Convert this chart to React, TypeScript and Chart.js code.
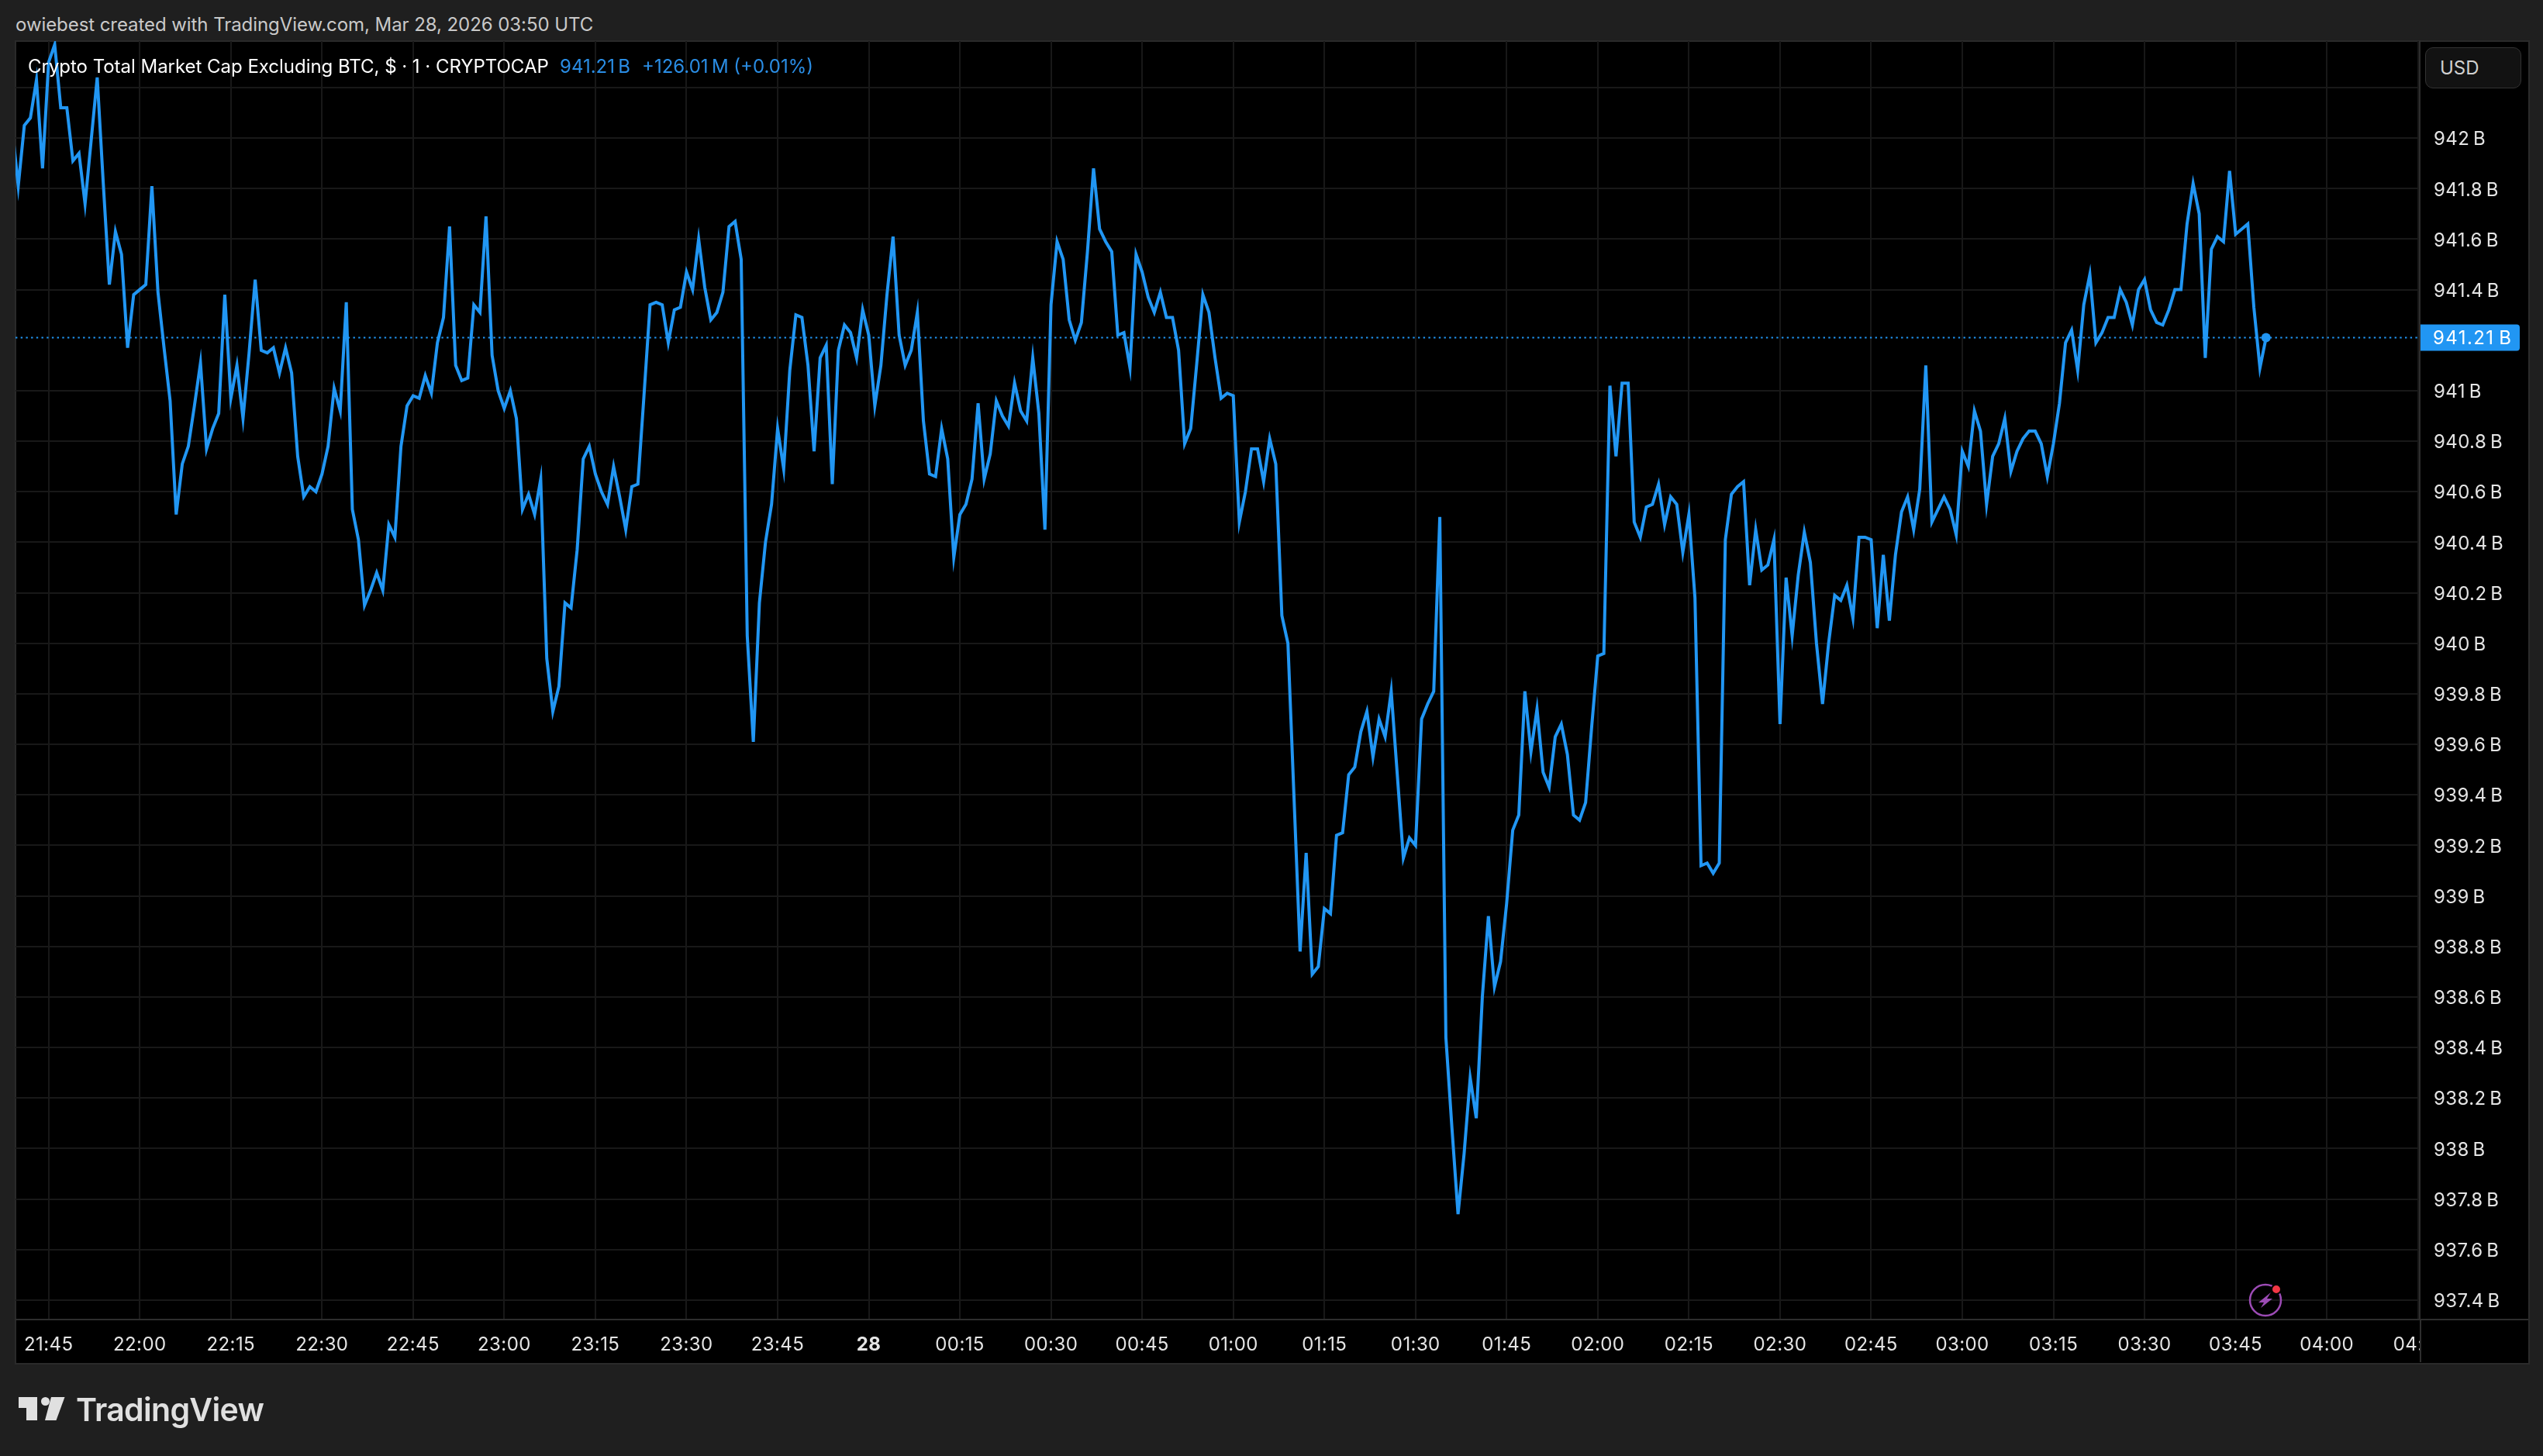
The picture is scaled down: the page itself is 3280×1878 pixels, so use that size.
import { useEffect, useRef } from 'react';
import Chart from 'chart.js/auto';

// one close per minute, the first one is 21:39 and falls left of the pane
const firstMinute = -6; // minutes relative to 21:45
const closes = [
  942.04, 941.81, 942.05, 942.08, 942.23, 941.88,
  942.30, 942.37, 942.12, 942.12, 941.91, 941.94, 941.74, 941.99, 942.24, 941.82,
  941.42, 941.63, 941.54, 941.17, 941.38, 941.40, 941.42, 941.81, 941.39, 941.17,
  940.96, 940.51, 940.71, 940.78, 940.94, 941.11, 940.77, 940.85, 940.91, 941.38,
  940.97, 941.10, 940.89, 941.15, 941.44, 941.16, 941.15, 941.17, 941.07, 941.17,
  941.07, 940.74, 940.58, 940.62, 940.60, 940.67, 940.78, 941.01, 940.92, 941.35,
  940.53, 940.41, 940.15, 940.21, 940.28, 940.21, 940.47, 940.42, 940.78, 940.94,
  940.98, 940.97, 941.06, 940.99, 941.19, 941.29, 941.65, 941.10, 941.04, 941.05,
  941.34, 941.31, 941.69, 941.14, 941.00, 940.93, 941.00, 940.89, 940.53, 940.59,
  940.51, 940.65, 939.94, 939.73, 939.83, 940.16, 940.14, 940.37, 940.73, 940.78,
  940.67, 940.60, 940.55, 940.70, 940.58, 940.45, 940.62, 940.63, 940.98, 941.34,
  941.35, 941.34, 941.19, 941.32, 941.33, 941.47, 941.40, 941.60, 941.41, 941.28,
  941.31, 941.39, 941.65, 941.67, 941.52, 940.03, 939.61, 940.16, 940.40, 940.55,
  940.85, 940.69, 941.08, 941.30, 941.29, 941.10, 940.76, 941.13, 941.18, 940.63,
  941.16, 941.26, 941.23, 941.13, 941.32, 941.22, 940.94, 941.10, 941.38, 941.61,
  941.22, 941.10, 941.16, 941.31, 940.88, 940.67, 940.66, 940.85, 940.73, 940.34,
  940.51, 940.55, 940.65, 940.95, 940.65, 940.75, 940.96, 940.90, 940.86, 941.03,
  940.92, 940.88, 941.13, 940.91, 940.45, 941.34, 941.59, 941.52, 941.28, 941.20,
  941.27, 941.55, 941.88, 941.64, 941.59, 941.55, 941.22, 941.23, 941.09, 941.54,
  941.47, 941.37, 941.31, 941.39, 941.29, 941.29, 941.16, 940.79, 940.85, 941.11,
  941.38, 941.31, 941.13, 940.97, 940.99, 940.98, 940.48, 940.60, 940.77, 940.77,
  940.64, 940.81, 940.71, 940.11, 940.00, 939.39, 938.78, 939.17, 938.69, 938.72,
  938.95, 938.93, 939.24, 939.25, 939.48, 939.51, 939.65, 939.73, 939.55, 939.70,
  939.63, 939.81, 939.48, 939.15, 939.23, 939.20, 939.70, 939.76, 939.81, 940.50,
  938.44, 938.08, 937.74, 937.98, 938.28, 938.12, 938.60, 938.92, 938.64, 938.74,
  938.97, 939.26, 939.32, 939.81, 939.57, 939.74, 939.49, 939.43, 939.63, 939.68,
  939.56, 939.32, 939.30, 939.37, 939.67, 939.95, 939.96, 941.02, 940.74, 941.03,
  941.03, 940.48, 940.42, 940.54, 940.55, 940.63, 940.47, 940.58, 940.55, 940.36,
  940.51, 940.18, 939.12, 939.13, 939.09, 939.13, 940.41, 940.59, 940.62, 940.64,
  940.23, 940.45, 940.29, 940.31, 940.41, 939.68, 940.26, 940.03, 940.27, 940.44,
  940.32, 940.00, 939.76, 940.00, 940.19, 940.17, 940.23, 940.10, 940.42, 940.42,
  940.41, 940.06, 940.35, 940.09, 940.35, 940.52, 940.58, 940.45, 940.61, 941.10,
  940.48, 940.53, 940.58, 940.53, 940.43, 940.76, 940.70, 940.92, 940.84, 940.55,
  940.74, 940.79, 940.89, 940.68, 940.76, 940.81, 940.84, 940.84, 940.79, 940.66,
  940.79, 940.95, 941.19, 941.24, 941.08, 941.34, 941.46, 941.19, 941.23, 941.29,
  941.29, 941.40, 941.35, 941.26, 941.40, 941.44, 941.32, 941.27, 941.26, 941.32,
  941.40, 941.40, 941.66, 941.82, 941.70, 941.13, 941.56, 941.61, 941.59, 941.87,
  941.62, 941.64, 941.66, 941.33, 941.09, 941.21,
];

const timeLabels = [
  '21:45', '22:00', '22:15', '22:30', '22:45', '23:00', '23:15', '23:30', '23:45', '28',
  '00:15', '00:30', '00:45', '01:00', '01:15', '01:30', '01:45', '02:00', '02:15', '02:30',
  '02:45', '03:00', '03:15', '03:30', '03:45', '04:00', '04:15',
];
// 941.2 has no line, the price label takes its place
const priceTicks = [
  937.4, 937.6, 937.8, 938, 938.2, 938.4, 938.6, 938.8, 939, 939.2, 939.4, 939.6, 939.8,
  940, 940.2, 940.4, 940.6, 940.8, 941, 941.4, 941.6, 941.8, 942, 942.2,
];
const hiddenPriceLabel = 942.2; // under the USD button
const lastPrice = 941.21;

const minuteMin = -5.45;
const minuteMax = 390.3;
const priceMin = 937.323;
const priceMax = 942.384;

const BLUE = '#2196f3';
const FONT = 'Inter, "Noto Sans", sans-serif';
const THIN = '\u2009';

const priceLabel = {
  id: 'priceLabel',
  beforeDraw(chart: any) {
    chart.ctx.letterSpacing = '0.4px';
  },
  afterDraw(chart: any) {
    const { ctx, chartArea, scales } = chart;
    const y = scales.y.getPixelForValue(lastPrice);
    ctx.save();
    ctx.fillStyle = BLUE;
    ctx.beginPath();
    ctx.roundRect(chartArea.right + 1, y - 17, 128, 34, [0, 4, 4, 0]);
    ctx.fill();
    ctx.fillStyle = '#ffffff';
    ctx.font = `24px ${FONT}`;
    ctx.letterSpacing = '1.4px';
    ctx.textBaseline = 'middle';
    ctx.fillText(`${lastPrice}${THIN}B`, chartArea.right + 17, y + 1);
    ctx.restore();
  },
};

function Text({ x, y, color, size = 24, weight = 400, spacing = 0, children }: any) {
  return (
    <div
      style={{
        position: 'absolute',
        left: x,
        top: y,
        color,
        fontFamily: FONT,
        fontSize: size,
        fontWeight: weight,
        letterSpacing: spacing,
        lineHeight: 1,
        whiteSpace: 'nowrap',
      }}
    >
      {children}
    </div>
  );
}

export default function App() {
  const chartRef = useRef<HTMLCanvasElement>(null);

  useEffect(() => {
    document.body.style.margin = '0';
    document.body.style.background = '#1f1f1f';
    if (!chartRef.current) return;

    const chart = new Chart(chartRef.current, {
      type: 'line',
      data: {
        datasets: [
          {
            label: 'Crypto Total Market Cap Excluding BTC',
            data: closes.map((y, i) => ({ x: firstMinute + i, y })),
            borderColor: BLUE,
            borderWidth: 4,
            tension: 0,
            pointRadius: (c: any) => (c.dataIndex === closes.length - 1 ? 6 : 0),
            pointBackgroundColor: BLUE,
            pointBorderWidth: 0,
          },
          {
            label: 'Last price',
            data: [
              { x: minuteMin, y: lastPrice },
              { x: minuteMax, y: lastPrice },
            ],
            borderColor: BLUE,
            borderWidth: 2.2,
            borderDash: [2.4, 4.3],
            pointRadius: 0,
          },
        ],
      },
      plugins: [priceLabel],
      options: {
        responsive: false,
        animation: false,
        layout: { padding: { left: 20, top: 53, right: 20, bottom: 121 } },
        plugins: { legend: { display: false }, tooltip: { enabled: false } },
        scales: {
          x: {
            type: 'linear',
            min: minuteMin,
            max: minuteMax,
            afterBuildTicks: (s: any) => {
              s.ticks = timeLabels.map((_, i) => ({ value: i * 15 }));
            },
            afterFit: (s: any) => {
              s.height = 55;
            },
            grid: { color: '#181818', lineWidth: 2, drawTicks: false },
            border: { color: '#2e2e2e', width: 2 },
            ticks: {
              autoSkip: false,
              maxRotation: 0,
              padding: 18,
              color: '#e4e4e4',
              font: (c: any) => ({
                family: FONT,
                size: 24,
                weight: c.index === 9 ? 'bold' : 'normal',
              }),
              callback: (_v: any, i: number) => timeLabels[i],
            },
          },
          y: {
            position: 'right',
            min: priceMin,
            max: priceMax,
            afterBuildTicks: (s: any) => {
              s.ticks = priceTicks.map((value) => ({ value }));
            },
            afterFit: (s: any) => {
              s.width = 139;
            },
            grid: { color: '#181818', lineWidth: 2, drawTicks: false },
            border: { color: '#2e2e2e', width: 2 },
            ticks: {
              autoSkip: false,
              padding: 18,
              crossAlign: 'near',
              labelOffset: 2,
              color: '#e4e4e4',
              font: { family: FONT, size: 24 },
              callback: (v: any) => (v === hiddenPriceLabel ? '' : `${v}${THIN}B`),
            },
          },
        },
      },
    });

    return () => chart.destroy();
  }, []);

  return (
    <div style={{ position: 'absolute', left: 0, top: 0, width: 3280, height: 1878, overflow: 'hidden', background: '#1f1f1f' }}>
      <Text x={20} y={20} color="#c9c9c9" spacing={-0.07}>
        owiebest created with TradingView.com, Mar 28, 2026 03:50 UTC
      </Text>

      <div
        style={{
          position: 'absolute',
          left: 19,
          top: 52,
          width: 3240,
          height: 1704,
          background: '#000',
          border: '2px solid #2a2a2a',
        }}
      />
      <canvas ref={chartRef} width={3280} height={1878} style={{ position: 'absolute', left: 0, top: 0, display: 'block' }} />

      {/* corner under the price scale, also cuts off the 04:15 label */}
      <div
        style={{
          position: 'absolute',
          left: 3121,
          top: 1701,
          width: 138,
          height: 54,
          background: '#000',
          borderLeft: '2px solid #2e2e2e',
          borderTop: '2px solid #2e2e2e',
        }}
      />

      <div
        style={{
          position: 'absolute',
          left: 3128,
          top: 61,
          width: 122,
          height: 51,
          background: '#121212',
          border: '1px solid #333',
          borderRadius: 10,
        }}
      />
      <Text x={3147} y={76} color="#d0d0d0">USD</Text>

      <Text x={36} y={74} color="#ffffff" spacing={-0.03}>
        Crypto Total Market Cap Excluding BTC, $ · 1 · CRYPTOCAP
      </Text>
      <Text x={722} y={74} color="#2a8de4">{`941.21${THIN}B`}</Text>
      <Text x={828} y={74} color="#2a8de4">{`+126.01${THIN}M (+0.01%)`}</Text>

      <svg style={{ position: 'absolute', left: 2900, top: 1655 }} width={46} height={46} viewBox="0 0 46 46">
        <circle cx={22} cy={22} r={20} fill="none" stroke="#9c4bb5" strokeWidth={2.5} />
        <path d="M29 12 L13 25 L20 25 L16 32 L31 20 L24 20 Z" fill="#9c4bb5" />
        <circle cx={36} cy={8} r={6} fill="#f23645" stroke="#000" strokeWidth={2} />
      </svg>

      <svg style={{ position: 'absolute', left: 24, top: 1802 }} width={60} height={31} viewBox="0 0 60 31">
        <path d="M0 0 H24 V30 H10 V14 H0 Z" fill="#e0e0e0" />
        <circle cx={34.5} cy={5.5} r={5.5} fill="#e0e0e0" />
        <path d="M42 0 H59.5 L48.5 30 H34 Z" fill="#e0e0e0" />
      </svg>
      <Text x={98} y={1798} color="#e0e0e0" size={41} weight={600} spacing={-0.7}>TradingView</Text>
    </div>
  );
}
